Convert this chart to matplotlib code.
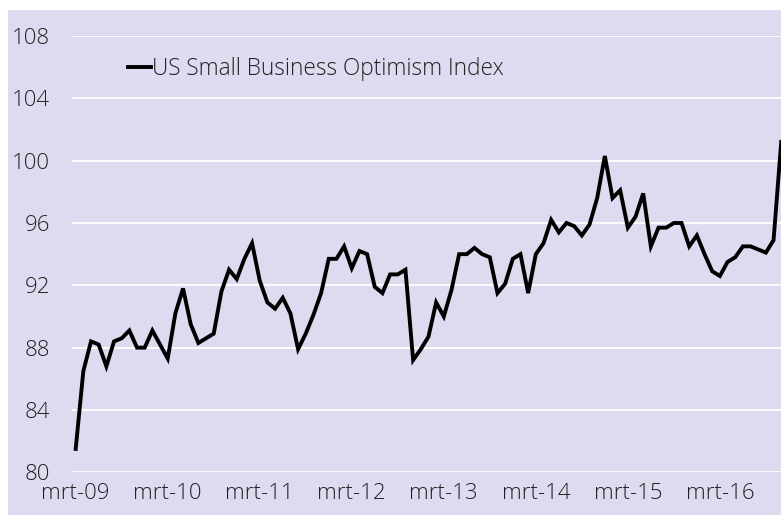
import matplotlib
matplotlib.use("Agg")
import matplotlib.pyplot as plt
from matplotlib.patches import Rectangle

# monthly index values, mrt-09 .. nov-16
index_values = [
    81.5, 86.5, 88.4, 88.2, 86.8, 88.4, 88.6, 89.1, 88.0, 88.0, 89.1, 88.2,
    87.3, 90.2, 91.8, 89.5, 88.3, 88.6, 88.9, 91.6, 93.0, 92.4, 93.7, 94.7,
    92.3, 90.9, 90.5, 91.2, 90.2, 87.9, 88.9, 90.1, 91.5, 93.7, 93.7, 94.5,
    93.1, 94.2, 94.0, 91.9, 91.5, 92.7, 92.7, 93.0, 87.2, 87.9, 88.7, 90.9,
    90.0, 91.7, 94.0, 94.0, 94.4, 94.0, 93.8, 91.5, 92.1, 93.7, 94.0, 91.5,
    94.0, 94.7, 96.2, 95.4, 96.0, 95.8, 95.2, 95.9, 97.6, 100.3, 97.6, 98.1,
    95.7, 96.4, 97.9, 94.5, 95.7, 95.7, 96.0, 96.0, 94.5, 95.2, 94.0, 92.9,
    92.6, 93.5, 93.8, 94.5, 94.5, 94.3, 94.1, 94.9, 101.2,
]
months = list(range(len(index_values)))

tick_labels = ["mrt-09", "mrt-10", "mrt-11", "mrt-12",
               "mrt-13", "mrt-14", "mrt-15", "mrt-16"]
tick_pos = [12 * k for k in range(len(tick_labels))]
y_ticks = [80, 84, 88, 92, 96, 100, 104, 108]

series_name = "US Small Business Optimism Index"

bg = "#DDDBEF"
txt = "#222222"
plt.rcParams["font.family"] = ["Open Sans", "DejaVu Sans"]

W, H = 781, 515
fig = plt.figure(figsize=(W / 100, H / 100), dpi=100, facecolor="white")
# lavender chart area (white strip at top and left)
fig.patches.append(Rectangle((8 / W, 0), 1, (H - 10) / H, transform=fig.transFigure,
                             facecolor=bg, edgecolor="none", zorder=-10))

ax = fig.add_axes([72 / W, (H - 472.3) / H, 1 - 72 / W, (472.3 - 36) / H])
ax.set_zorder(5)
ax.patch.set_visible(False)

ax.plot(months, index_values, color="black", lw=2.8, solid_joinstyle="miter",
        label=series_name, zorder=3, clip_on=True)

ax.set_ylim(80, 108)
ax.set_xlim(-0.48, 91.97)
ax.set_yticks(y_ticks)
ax.set_xticks(tick_pos)
ax.set_xticklabels(tick_labels)
ax.yaxis.grid(True, color="white", lw=1.3)
ax.set_axisbelow(True)
for s in ax.spines.values():
    s.set_visible(False)
ax.tick_params(axis="both", length=0, labelsize=16, labelcolor=txt)
ax.tick_params(axis="y", pad=16)
ax.tick_params(axis="x", pad=8)
for lab in ax.get_xticklabels() + ax.get_yticklabels():
    lab.set_fontweight("light")

leg = ax.legend(loc="center left", bbox_to_anchor=(128 / W, (H - 69) / H),
                bbox_transform=fig.transFigure, frameon=False,
                handlelength=1.0, handletextpad=0.05, borderpad=0, borderaxespad=0,
                prop={"size": 16.3, "weight": "light"})
for t in leg.get_texts():
    t.set_color(txt)

fig.savefig("out.png", dpi=100, facecolor="white")
